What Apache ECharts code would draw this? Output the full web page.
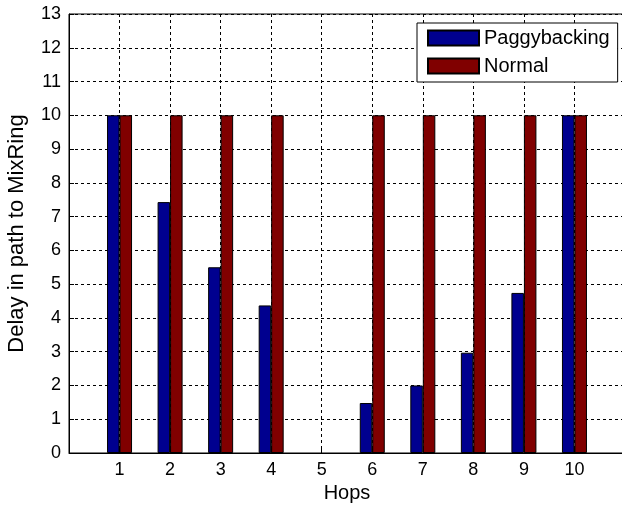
<!DOCTYPE html>
<html>
<head>
<meta charset="utf-8">
<script src="https://cdn.jsdelivr.net/npm/echarts@6/dist/echarts.min.js"></script>
<style>html,body{margin:0;padding:0;background:#fff}#c{width:622px;height:507px}</style>
</head>
<body>
<div id="c"></div>
<script>
const hops = [1, 2, 3, 4, 5, 6, 7, 8, 9, 10];
const paggybacking = [10, 7.43, 5.5, 4.37, null, 1.48, 2.0, 2.97, 4.74, 10];
const normal = [10, 10, 10, 10, null, 10, 10, 10, 10, 10];
const seriesNames = ['Paggybacking', 'Normal'];
const xLabel = 'Hops';
const yLabel = 'Delay in path to MixRing';

const FONT = 'Liberation Sans, Arial, Helvetica, sans-serif';
const chart = echarts.init(document.getElementById('c'), null, {renderer: 'canvas'});
const mk = (vals) => hops.map((h, i) => [h, vals[i]]);
chart.setOption({
  animation: false,
  backgroundColor: '#fff',
  textStyle: {fontFamily: FONT, color: '#000'},
  grid: {left: 69, top: 14, width: 556, height: 439, show: true, borderColor: '#000', borderWidth: 1,
         containLabel: false, outerBoundsMode: 'none'},
  legend: {
    data: seriesNames,
    orient: 'vertical',
    left: 417, top: 23,
    backgroundColor: '#fff',
    borderColor: '#000', borderWidth: 1,
    padding: [5, 8, 6, 10],
    itemWidth: 51, itemHeight: 15, itemGap: 8,
    icon: 'rect',
    textStyle: {fontFamily: FONT, fontSize: 20, color: '#000'}
  },
  xAxis: {
    type: 'value', min: 0, max: 11, interval: 1,
    name: xLabel, nameLocation: 'middle', nameGap: 30,
    nameTextStyle: {fontFamily: FONT, fontSize: 20, color: '#000'},
    axisLine: {lineStyle: {color: '#000', width: 1}},
    axisTick: {inside: true, length: 5, lineStyle: {color: '#000'}},
    axisLabel: {fontFamily: FONT, fontSize: 18, color: '#000', margin: 8,
      formatter: v => (v >= 1 && v <= 10) ? String(v) : ''},
    splitLine: {show: true, lineStyle: {color: '#000', type: [3, 3], width: 1}}
  },
  yAxis: {
    type: 'value', min: 0, max: 13, interval: 1,
    name: yLabel, nameLocation: 'middle', nameGap: 41, nameRotate: 90,
    nameTextStyle: {fontFamily: FONT, fontSize: 22, color: '#000'},
    axisLine: {show: true, lineStyle: {color: '#000', width: 1}},
    axisTick: {show: true, inside: true, length: 5, lineStyle: {color: '#000'}},
    axisLabel: {fontFamily: FONT, fontSize: 18, color: '#000', margin: 8},
    splitLine: {show: true, lineStyle: {color: '#000', type: [3, 3], width: 1}}
  },
  series: [
    {name: seriesNames[0], type: 'bar', data: mk(paggybacking), barWidth: 12.5, barGap: '0%',
     itemStyle: {color: '#00008f', borderColor: '#000', borderWidth: 1}},
    {name: seriesNames[1], type: 'bar', data: mk(normal), barWidth: 12.5, barGap: '0%',
     itemStyle: {color: '#800000', borderColor: '#000', borderWidth: 1}}
  ]
});
</script>
</body>
</html>
